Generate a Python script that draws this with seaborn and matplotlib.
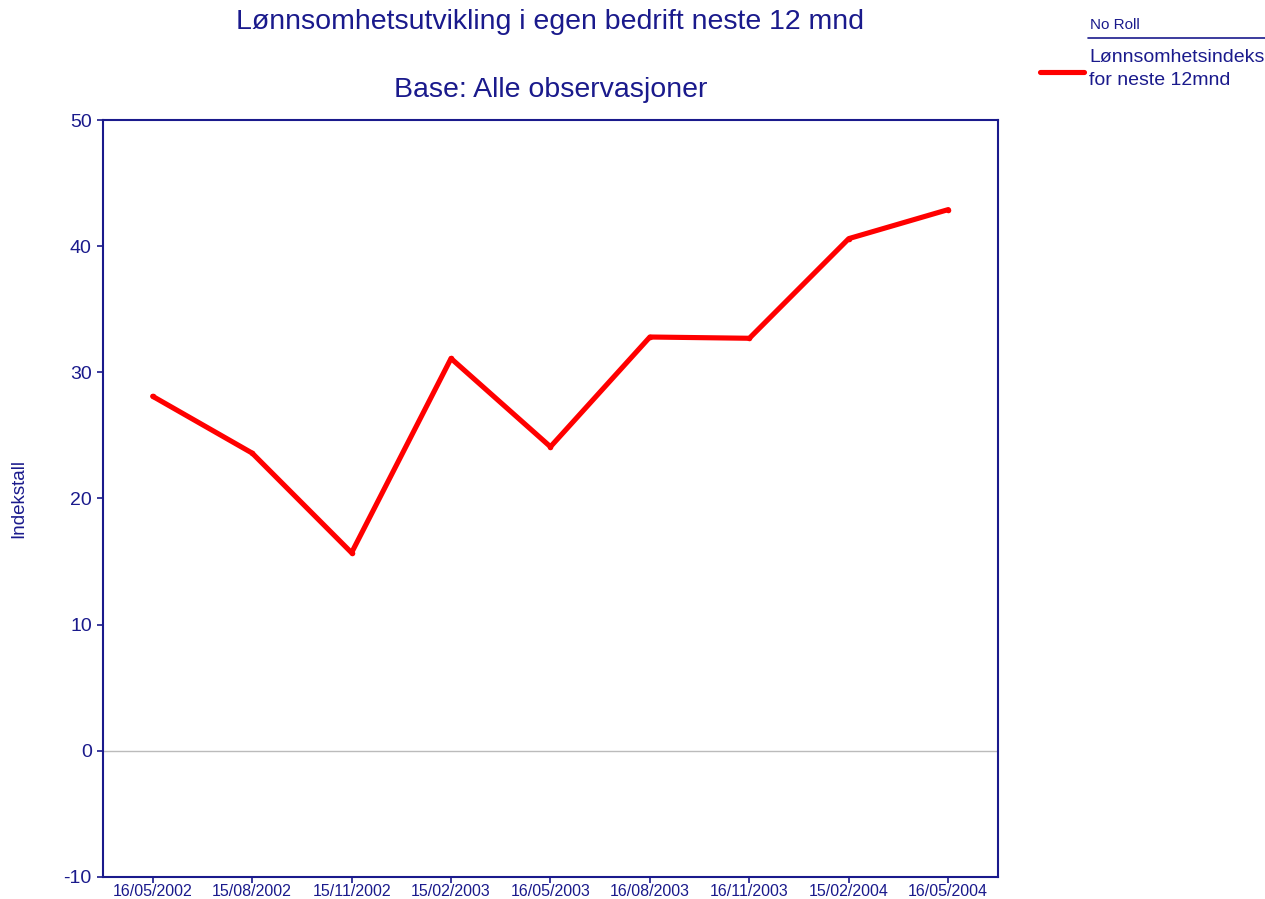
import pandas
import matplotlib.pyplot as pyplot
import seaborn
from matplotlib.lines import Line2D

# data
dates = ["16/05/2002", "15/08/2002", "15/11/2002", "15/02/2003", "16/05/2003",
         "16/08/2003", "16/11/2003", "15/02/2004", "16/05/2004"]
index_values = [28.1, 23.6, 15.7, 31.1, 24.1, 32.8, 32.7, 40.6, 42.9]
series_name = "Lønnsomhetsindeks\nfor neste 12mnd"

df = pandas.DataFrame({"Dato": dates, "Indeks": index_values})

# style
seaborn.set_style("white")
pyplot.rcParams["font.family"] = ["Liberation Sans", "DejaVu Sans"]
pyplot.rcParams["axes.unicode_minus"] = False
navy = "#1a1a8c"
red = "#ff0000"

fig = pyplot.figure(figsize=(12.65, 8.99), dpi=100)
ax = fig.add_axes([0.0814, 0.0245, 0.7075, 0.842])

seaborn.lineplot(data=df, x="Dato", y="Indeks", color=red, linewidth=3.7,
                 marker="o", markersize=4, markeredgewidth=0, ax=ax, legend=False)

ax.axhline(0, color="#bbbbbb", linewidth=1, zorder=0)
ax.set_xlim(-0.5, len(dates) - 0.5)
ax.set_ylim(-10, 50)
ax.set_yticks(range(-10, 51, 10))

for side in ["left", "right", "top", "bottom"]:
    ax.spines[side].set_color(navy)
    ax.spines[side].set_linewidth(1.5)
    ax.spines[side].set_visible(True)

ax.tick_params(axis="y", colors=navy, labelsize=14, length=4, width=1.2,
               direction="out", left=True, pad=4)
ax.tick_params(axis="x", colors=navy, labelsize=11.5, length=4, width=1.2,
               direction="out", bottom=True, pad=1)
ax.set_xlabel("")
ax.set_ylabel("Indekstall", color=navy, fontsize=13.5, labelpad=26)

# titles
fig.text(0.435, 0.9755, "Lønnsomhetsutvikling i egen bedrift neste 12 mnd",
         ha="center", va="center", color=navy, fontsize=20.5)
fig.text(0.435, 0.8999, "Base: Alle observasjoner",
         ha="center", va="center", color=navy, fontsize=20.5)

# legend
fig.text(0.862, 0.972, "No Roll", ha="left", va="center", color=navy, fontsize=11)
fig.add_artist(Line2D([0.860, 1.0], [0.958, 0.958], color=navy, linewidth=1.2,
                      transform=fig.transFigure))
fig.add_artist(Line2D([0.822, 0.857], [0.920, 0.920], color=red, linewidth=3.7,
                      transform=fig.transFigure))
fig.text(0.861, 0.9235, series_name, ha="left", va="center", color=navy,
         fontsize=14, linespacing=1.45)

fig.savefig("out.png", dpi=100)
